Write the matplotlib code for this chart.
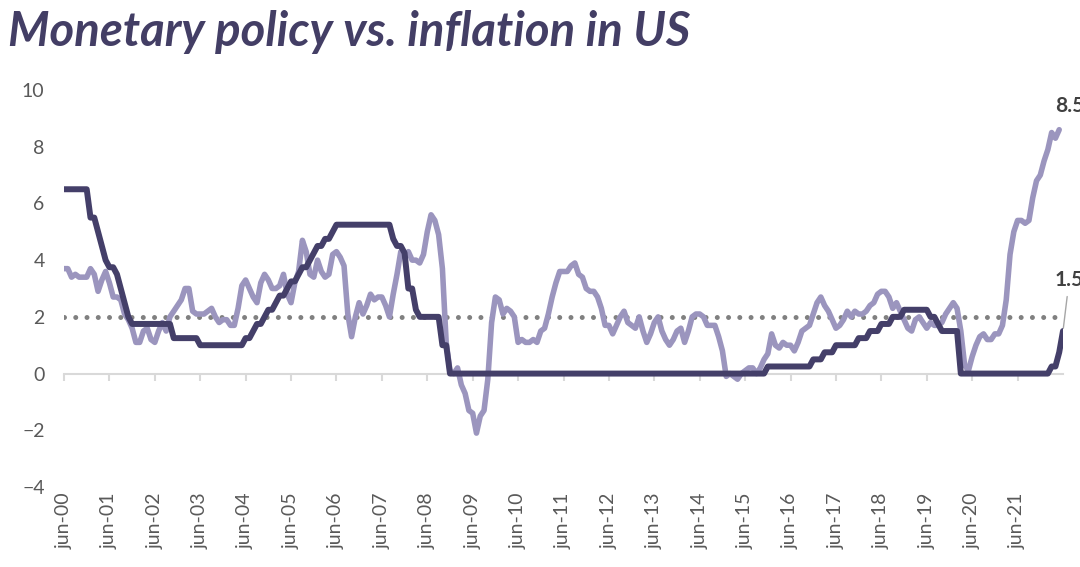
import matplotlib
matplotlib.use('Agg')
import matplotlib.pyplot as plt
import numpy as np

# US CPI inflation, % y/y, monthly jun-00 .. may-22
cpi = [3.7, 3.7, 3.4, 3.5, 3.4, 3.4, 3.4,
       3.7, 3.5, 2.9, 3.3, 3.6, 3.2, 2.7, 2.7, 2.6, 2.1, 1.9, 1.6,
       1.1, 1.1, 1.5, 1.6, 1.2, 1.1, 1.5, 1.8, 1.5, 2.0, 2.2, 2.4,
       2.6, 3.0, 3.0, 2.2, 2.1, 2.1, 2.1, 2.2, 2.3, 2.0, 1.8, 1.9,
       1.9, 1.7, 1.7, 2.3, 3.1, 3.3, 3.0, 2.7, 2.5, 3.2, 3.5, 3.3,
       3.0, 3.0, 3.1, 3.5, 2.8, 2.5, 3.2, 3.6, 4.7, 4.3, 3.5, 3.4,
       4.0, 3.6, 3.4, 3.5, 4.2, 4.3, 4.1, 3.8, 2.1, 1.3, 2.0, 2.5,
       2.1, 2.4, 2.8, 2.6, 2.7, 2.7, 2.4, 2.0, 2.8, 3.5, 4.3, 4.1,
       4.3, 4.0, 4.0, 3.9, 4.2, 5.0, 5.6, 5.4, 4.9, 3.7, 1.1, 0.1,
       0.0, 0.2, -0.4, -0.7, -1.3, -1.4, -2.1, -1.5, -1.3, -0.2, 1.8, 2.7,
       2.6, 2.1, 2.3, 2.2, 2.0, 1.1, 1.2, 1.1, 1.1, 1.2, 1.1, 1.5,
       1.6, 2.1, 2.7, 3.2, 3.6, 3.6, 3.6, 3.8, 3.9, 3.5, 3.4, 3.0,
       2.9, 2.9, 2.7, 2.3, 1.7, 1.7, 1.4, 1.7, 2.0, 2.2, 1.8, 1.7,
       1.6, 2.0, 1.5, 1.1, 1.4, 1.8, 2.0, 1.5, 1.2, 1.0, 1.2, 1.5,
       1.6, 1.1, 1.5, 2.0, 2.1, 2.1, 2.0, 1.7, 1.7, 1.7, 1.3, 0.8,
       -0.1, 0.0, -0.1, -0.2, 0.0, 0.1, 0.2, 0.2, 0.0, 0.2, 0.5, 0.7,
       1.4, 1.0, 0.9, 1.1, 1.0, 1.0, 0.8, 1.1, 1.5, 1.6, 1.7, 2.1,
       2.5, 2.7, 2.4, 2.2, 1.9, 1.6, 1.7, 1.9, 2.2, 2.0, 2.2, 2.1,
       2.1, 2.2, 2.4, 2.5, 2.8, 2.9, 2.9, 2.7, 2.3, 2.5, 2.2, 1.9,
       1.6, 1.5, 1.9, 2.0, 1.8, 1.6, 1.8, 1.7, 1.7, 1.8, 2.1, 2.3,
       2.5, 2.3, 1.5, 0.3, 0.1, 0.6, 1.0, 1.3, 1.4, 1.2, 1.2, 1.4,
       1.4, 1.7, 2.6, 4.2, 5.0, 5.4, 5.4, 5.3, 5.4, 6.2, 6.8, 7.0,
       7.5, 7.9, 8.5, 8.3, 8.6]

# Fed funds target (lower bound from dec-08), end of month, jun-00 .. jun-22
fed = ([6.5] * 7
       + [5.5, 5.5, 5.0, 4.5, 4.0, 3.75, 3.75, 3.5, 3.0, 2.5, 2.0, 1.75]
       + [1.75] * 10 + [1.25, 1.25]
       + [1.25] * 5 + [1.0] * 7
       + [1.0] * 5 + [1.25, 1.25, 1.5, 1.75, 1.75, 2.0, 2.25]
       + [2.25, 2.5, 2.75, 2.75, 3.0, 3.25, 3.25, 3.5, 3.75, 3.75, 4.0, 4.25]
       + [4.5, 4.5, 4.75, 4.75, 5.0] + [5.25] * 7
       + [5.25] * 8 + [4.75, 4.5, 4.5, 4.25]
       + [3.0, 3.0, 2.25] + [2.0] * 6 + [1.0, 1.0, 0.0]
       + [0.0] * 83 + [0.25]
       + [0.25] * 11 + [0.5]
       + [0.5, 0.5, 0.75, 0.75, 0.75] + [1.0] * 6 + [1.25]
       + [1.25, 1.25, 1.5, 1.5, 1.5, 1.75, 1.75, 1.75, 2.0, 2.0, 2.0, 2.25]
       + [2.25] * 6 + [2.0, 2.0, 1.75, 1.5, 1.5, 1.5]
       + [1.5, 1.5] + [0.0] * 10
       + [0.0] * 12
       + [0.0, 0.0, 0.25, 0.25, 0.75, 1.5])

tick_labels = ['jun-%02d' % y for y in range(0, 22)]
end_labels = ['8.5', '1.5']
target = 2

dark = '#443f69'
light = '#9b95be'

plt.rcParams['font.family'] = ['Lato', 'DejaVu Sans']

fig = plt.figure(figsize=(10.8, 5.67), dpi=100)
ax = fig.add_axes([64 / 1080, 1 - 487 / 567, 999 / 1080, 397 / 567])

ax.axhline(target, color='#808080', lw=3.6, linestyle=(0, (0.001, 2.25)),
           dash_capstyle='round', zorder=2)
ax.plot(np.arange(len(cpi)), cpi, color=light, lw=4.0,
        solid_joinstyle='round', solid_capstyle='round', zorder=3)
ax.plot(np.arange(len(fed)), fed, color=dark, lw=4.3,
        solid_joinstyle='round', solid_capstyle='round', zorder=4)

ax.set_xlim(0, 264)
ax.set_ylim(-4, 10)
ax.set_yticks(range(-4, 11, 2))
ax.tick_params(axis='y', length=0, pad=14, labelsize=14, labelcolor='#595959')

# zero line with yearly ticks, labels at the bottom
for s in ['left', 'right', 'top']:
    ax.spines[s].set_visible(False)
ax.spines['bottom'].set_position(('data', 0))
ax.spines['bottom'].set_color('#d9d9d9')
ax.spines['bottom'].set_linewidth(1.5)
ax.set_xticks(range(0, 253, 12))
ax.tick_params(axis='x', direction='out', length=5, width=1.5,
               color='#d9d9d9', labelbottom=False)

sec = ax.secondary_xaxis(0)
sec.set_xticks(range(0, 253, 12), labels=tick_labels)
sec.tick_params(length=0, rotation=90, labelsize=14, labelcolor='#595959', pad=4)
for s in sec.spines.values():
    s.set_visible(False)

ax.annotate(end_labels[0], xy=(len(cpi) - 1, cpi[-1]), xytext=(-3, 17),
            textcoords='offset points', fontsize=15, fontweight='bold',
            color='#404040', ha='left', va='center', annotation_clip=False)
ax.annotate(end_labels[1], xy=(len(fed) - 1, fed[-1]), xytext=(-6, 37),
            textcoords='offset points', fontsize=15, fontweight='bold',
            color='#404040', ha='left', va='center', annotation_clip=False,
            arrowprops=dict(arrowstyle='-', color='#a6a6a6', lw=1,
                            shrinkA=3, shrinkB=2))

fig.text(8 / 1080, 1 - 46 / 567, 'Monetary policy vs. inflation in US',
         fontsize=34, fontweight='bold', fontstyle='italic', color='#433e65',
         va='baseline')

fig.savefig('out.png', dpi=100)
